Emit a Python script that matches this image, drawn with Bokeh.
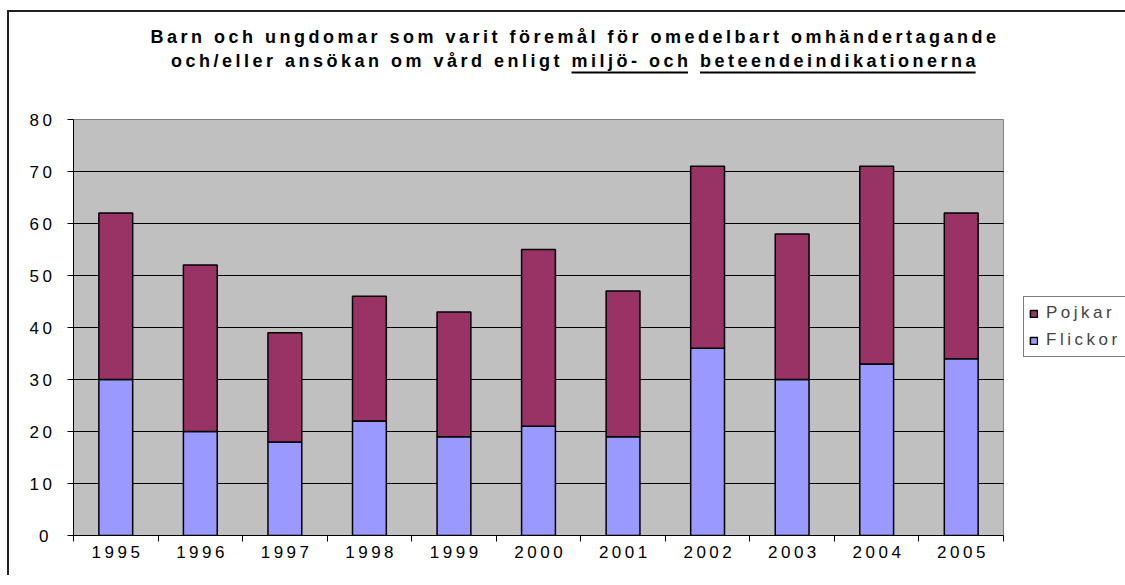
from bokeh.plotting import figure
from bokeh.models import (ColumnDataSource, Label, BoxAnnotation, Legend,
                          LegendItem, FixedTicker)
from bokeh.embed import file_html
from bokeh.resources import INLINE

# ---- data ----
years = [1995, 1996, 1997, 1998, 1999, 2000, 2001, 2002, 2003, 2004, 2005]
flickor = [30, 20, 18, 22, 19, 21, 19, 36, 30, 33, 34]
pojkar = [32, 32, 21, 24, 24, 34, 28, 35, 28, 38, 28]
series = ["Flickor", "Pojkar"]
colors = ["#9999FF", "#993366"]
y_ticks = [0, 10, 20, 30, 40, 50, 60, 70, 80]
grid_ticks = [10, 20, 30, 40, 50, 60, 70]

title_line1 = "Barn och ungdomar som varit föremål för omedelbart omhändertagande"
title_line2a = "och/eller ansökan om vård enligt"
title_line2b = "miljö- och"
title_line2c = "beteendeindikationerna"

FONT = "Liberation Sans"
LS = 3.5            # letter spacing (px) applied through CSS
TITLE_SIZE = 18

# ---- geometry of the chart area (pixels) ----
PX_PER_YEAR = 930 / 11
PX_PER_UNIT = 416 / 80
FRAME_W = 1052
FRAME_H = 515
X0 = years[0] - 0.5
X1 = X0 + FRAME_W / PX_PER_YEAR
Y1 = FRAME_H / PX_PER_UNIT

src = ColumnDataSource(dict(year=years, Flickor=flickor, Pojkar=pojkar))

p = figure(frame_width=FRAME_W, frame_height=FRAME_H,
           x_range=(X0, X1), y_range=(0, Y1),
           output_backend="svg", toolbar_location=None,
           min_border_left=64, min_border_top=8, min_border_bottom=40,
           min_border_right=0)
p.styles = {"border-left": "2px solid #222222", "border-top": "2px solid #222222",
            "margin-left": "7px", "margin-top": "10px",
            "letter-spacing": f"{LS}px"}

p.background_fill_color = "white"
p.border_fill_color = "white"
p.outline_line_color = None

# plot area (grey) with its border
p.add_layout(BoxAnnotation(left=X0, right=years[-1] + 0.5, bottom=0, top=y_ticks[-1],
                           fill_color="#C0C0C0", fill_alpha=1,
                           line_color="#808080", line_width=1, line_alpha=1,
                           level="image"))

# horizontal grid lines
p.segment(x0=[X0] * len(grid_ticks), x1=[years[-1] + 0.5] * len(grid_ticks),
          y0=grid_ticks, y1=grid_ticks, line_color="black", line_width=1)

rs = p.vbar_stack(series, x="year", width=0.4, source=src,
                  fill_color=colors, line_color="black", line_width=1.5)

# axes
p.yaxis.bounds = (0, y_ticks[-1])
p.yaxis.ticker = FixedTicker(ticks=y_ticks)
p.yaxis.major_tick_out = 6
p.yaxis.major_tick_in = 0
p.yaxis.minor_tick_out = 0
p.yaxis.minor_tick_in = 0
p.yaxis.major_label_standoff = 19
p.yaxis.axis_line_color = "black"
p.yaxis.major_tick_line_color = "black"
p.yaxis.major_label_text_font = FONT
p.yaxis.major_label_text_font_size = "17px"
p.yaxis.major_label_text_color = "black"

# year labels: the CSS letter spacing widens them to the right, so their
# anchor is nudged left by part of that extra width
label_shift = 1.5 * LS / PX_PER_YEAR
label_pos = [y - label_shift for y in years]
p.xaxis.bounds = (X0, years[-1] + 0.5)
p.xaxis.ticker = FixedTicker(ticks=label_pos,
                             minor_ticks=[y - 0.5 for y in years] + [years[-1] + 0.5])
p.xaxis.major_label_overrides = {pos: str(y) for pos, y in zip(label_pos, years)}
p.xaxis.major_tick_out = 0
p.xaxis.major_tick_in = 0
p.xaxis.minor_tick_out = 6
p.xaxis.minor_tick_in = 0
p.xaxis.minor_tick_line_color = "black"
p.xaxis.major_label_standoff = 4
p.xaxis.axis_line_color = "black"
p.xaxis.major_label_text_font = FONT
p.xaxis.major_label_text_font_size = "17px"
p.xaxis.major_label_text_color = "black"

p.xgrid.visible = False
p.ygrid.visible = False

# ---- title: two lines, part of the second one underlined ----
# Arial/Liberation Sans Bold advance widths (1/1000 em)
W = {" ": 278, "a": 556, "b": 611, "c": 556, "d": 611, "e": 556, "f": 333,
     "g": 611, "h": 611, "i": 278, "j": 278, "k": 556, "l": 278, "m": 889,
     "n": 611, "o": 611, "r": 389, "s": 556, "t": 333, "u": 611, "v": 556,
     "ö": 611, "å": 556, "ä": 556, "-": 333, "/": 278, "B": 722}


def text_w(s):
    return sum(W.get(ch, 556) for ch in s) * TITLE_SIZE / 1000 + len(s) * LS


def px_x(xp):   # chart pixel -> data x
    return X0 + (xp - 73) / PX_PER_YEAR


def px_y(yp):   # chart pixel -> data y
    return (535 - yp) / PX_PER_UNIT


CENTER = 574.5
l1_start = CENTER - text_w(title_line1) / 2
full2 = title_line2a + " " + title_line2b + " " + title_line2c
l2_start = CENTER - text_w(full2) / 2
x2b = l2_start + text_w(title_line2a + " ")
x2c = x2b + text_w(title_line2b + " ")

for txt, xp, yp in [(title_line1, l1_start, 36.5), (title_line2a, l2_start, 60),
                    (title_line2b, x2b, 60), (title_line2c, x2c, 60)]:
    p.add_layout(Label(x=px_x(xp), y=px_y(yp), text=txt, text_font=FONT,
                       text_font_size=f"{TITLE_SIZE}px", text_font_style="bold",
                       text_align="left", text_baseline="alphabetic",
                       text_color="black"))

for x0, s in [(x2b, title_line2b), (x2c, title_line2c)]:
    p.add_layout(BoxAnnotation(left=px_x(x0), right=px_x(x0 + text_w(s) - LS),
                               bottom=px_y(73), top=px_y(71),
                               fill_color="black", fill_alpha=1,
                               line_alpha=0))

legend = Legend(items=[LegendItem(label="Pojkar", renderers=[rs[1]]),
                       LegendItem(label="Flickor", renderers=[rs[0]])],
                location=(950, 178), margin=0, padding=5, spacing=5,
                glyph_width=9, glyph_height=9, label_standoff=8,
                label_height=22, label_width=80,
                label_text_font=FONT, label_text_font_size="17px",
                border_line_color="black", border_line_width=1,
                background_fill_color="white", background_fill_alpha=1)
p.add_layout(legend, "center")

open("out.html", "w").write(file_html(p, INLINE))
